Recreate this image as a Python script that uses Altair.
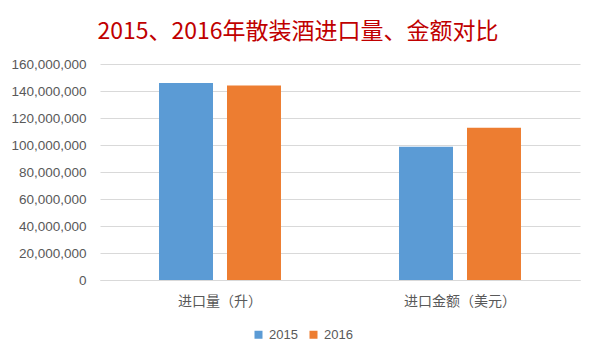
import altair as alt
import pandas as pd

categories = ["进口量（升）", "进口金额（美元）"]
years = ["2015", "2016"]
values_2015 = [146_000_000, 98_700_000]
values_2016 = [144_000_000, 112_800_000]
y_ticks = [0, 20_000_000, 40_000_000, 60_000_000, 80_000_000,
           100_000_000, 120_000_000, 140_000_000, 160_000_000]

rows = []
for i, c in enumerate(categories):
    rows.append({"category": c, "year": years[0], "value": values_2015[i]})
    rows.append({"category": c, "year": years[1], "value": values_2016[i]})
df = pd.DataFrame(rows)

FONT = "Liberation Sans, Noto Sans CJK SC, sans-serif"
CJK = "Noto Sans CJK SC, sans-serif"

chart = alt.Chart(df).mark_bar().encode(
    x=alt.X("category:N", sort=categories,
            scale=alt.Scale(paddingInner=0, paddingOuter=0),
            axis=alt.Axis(title=None, labelAngle=0, ticks=False,
                          domainColor="#D9D9D9", labelFont=CJK,
                          labelFontSize=14, labelColor="#595959",
                          labelPadding=14)),
    xOffset=alt.XOffset("year:N", sort=years,
                        scale=alt.Scale(paddingInner=0.206, paddingOuter=0.868)),
    y=alt.Y("value:Q",
            scale=alt.Scale(domain=[0, 160_000_000], nice=False),
            axis=alt.Axis(title=None, values=y_ticks, format=",d",
                          domain=False, ticks=False, gridColor="#D9D9D9",
                          labelFont=FONT, labelFontSize=13.5,
                          labelColor="#595959", labelPadding=14)),
    color=alt.Color("year:N", sort=years,
                    scale=alt.Scale(domain=years, range=["#5B9BD5", "#ED7D31"]),
                    legend=alt.Legend(title=None, orient="none", direction="horizontal",
                                      legendX=152, legendY=264,
                                      symbolType="square", symbolSize=64,
                                      symbolStrokeWidth=0, labelFont=FONT,
                                      labelFontSize=13, labelColor="#595959",
                                      labelOffset=4, columnPadding=9)),
).properties(
    width=480,
    height=216,
    title=alt.TitleParams("2015、2016年散装酒进口量、金额对比", font=CJK,
                          fontSize=23, fontWeight="normal", color="#C00000",
                          anchor="middle", dx=-42, offset=13),
    autosize=alt.AutoSizeParams(type="none"),
    padding={"left": 92, "top": 56, "right": 10, "bottom": 64},
).configure_view(stroke=None)

chart.save("out.html", embed_options={"renderer": "svg", "actions": False})
